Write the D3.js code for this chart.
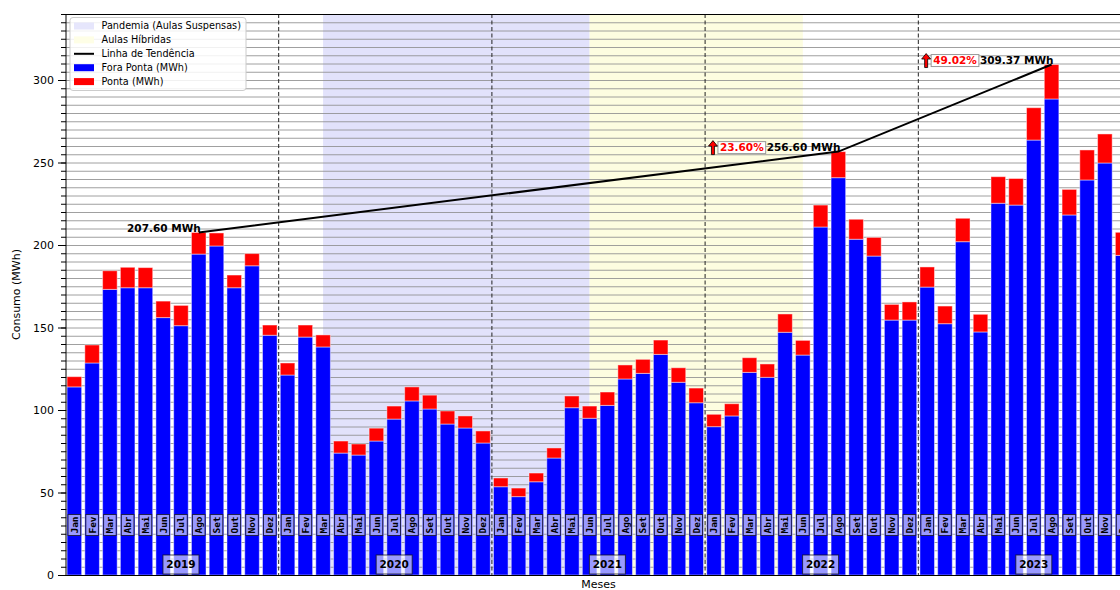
<!DOCTYPE html>
<html>
<head>
<meta charset="utf-8">
<script src="https://cdn.jsdelivr.net/npm/d3@7"></script>
<style>
  body { margin: 0; background: #fff; }
  svg { display: block; font-family: "DejaVu Sans", sans-serif; }
</style>
</head>
<body>
<svg id="chart" width="1120" height="590"></svg>
<script>
// ---- data -----------------------------------------------------------
const monthNames = ["Jan","Fev","Mar","Abr","Mai","Jun","Jul","Ago","Set","Out","Nov","Dez"];
const years = [2019, 2020, 2021, 2022, 2023];

// off-peak consumption (MWh), Jan 2019 .. Dez 2023
const foraPonta = [
  114.0, 128.5, 173.1, 174.1, 174.1, 156.0, 151.1, 194.5, 199.4, 174.1, 187.4, 145.3,
  121.2, 144.2, 138.2,  73.9,  72.7,  81.2,  94.5, 105.5, 100.6,  91.5,  89.1,  80.0,
   53.5,  47.5,  56.5,  70.9, 101.4,  95.0, 102.8, 118.8, 122.2, 133.7, 116.8, 104.4,
   89.9,  96.4, 122.8, 119.8, 147.1, 133.3, 210.9, 240.8, 203.5, 193.3, 154.5, 154.5,
  174.5, 152.3, 202.0, 147.3, 225.3, 224.2, 263.6, 288.5, 218.2, 239.4, 249.7, 193.7
];
// peak consumption (MWh), same months
const ponta = [
    6.2,  10.9,  11.3,  12.4,  12.2,  10.0,  12.3,  13.1,   7.9,   7.7,   7.4,   6.2,
    7.3,   7.3,   7.3,   7.3,   6.7,   7.8,   7.9,   8.5,   8.4,   7.9,   7.3,   7.3,
    5.3,   5.2,   5.3,   6.1,   7.1,   7.4,   8.1,   8.5,   8.5,   8.7,   8.8,   8.9,
    7.5,   7.4,   8.9,   8.1,  11.1,   8.9,  13.3,  15.8,  12.1,  11.3,   9.5,  11.0,
   12.2,  10.7,  14.2,  10.7,  16.1,  16.1,  19.6,  20.87, 15.5,  18.2,  17.6,  14.0
];

const yTicks = [0, 50, 100, 150, 200, 250, 300];
const pandemicSpan = ["Mar 2020", "Jun 2021"];
const hybridSpan = ["Jun 2021", "Jun 2022"];
const trendMonths = ["Ago 2019", "Ago 2022", "Ago 2023"];
const yearLabelMonth = "Jul";

// ---- layout ---------------------------------------------------------
const svg = d3.select("#chart");
const W = 1120, H = 590;
const plotLeft = 66, plotTop = 14, plotBottom = 575, plotRight = 1131;

const keys = years.flatMap(yr => monthNames.map(m => `${m} ${yr}`));
const rows = keys.map((k, i) => ({ key: k, month: k.split(" ")[0], fora: foraPonta[i], ponta: ponta[i], total: foraPonta[i] + ponta[i] }));
const byKey = new Map(rows.map(r => [r.key, r]));

const x = d3.scaleBand().domain(keys).range([plotLeft, plotRight]).paddingInner(0.18).paddingOuter(0.06);
const cx = k => x(k) + x.bandwidth() / 2;
const y = d3.scaleLinear().domain([0, 340]).range([plotBottom, plotTop]);

const clipId = "plotClip";
svg.append("defs").append("clipPath").attr("id", clipId)
  .append("rect").attr("x", plotLeft).attr("y", plotTop).attr("width", plotRight - plotLeft).attr("height", plotBottom - plotTop);

const plot = svg.append("g").attr("clip-path", `url(#${clipId})`);

// shaded periods
plot.append("rect")
  .attr("x", cx(pandemicSpan[0])).attr("y", plotTop)
  .attr("width", cx(pandemicSpan[1]) - cx(pandemicSpan[0])).attr("height", plotBottom - plotTop)
  .attr("fill", "#e2e2fb");
plot.append("rect")
  .attr("x", cx(hybridSpan[0])).attr("y", plotTop)
  .attr("width", cx(hybridSpan[1]) - cx(hybridSpan[0])).attr("height", plotBottom - plotTop)
  .attr("fill", "#fdfde0");

// horizontal grid every 5 MWh
plot.append("g").selectAll("line")
  .data(d3.range(5, 340, 5))
  .join("line")
  .attr("x1", plotLeft).attr("x2", plotRight)
  .attr("y1", d => y(d) + 0.5).attr("y2", d => y(d) + 0.5)
  .attr("stroke", "#8f8f8f").attr("stroke-width", 1).attr("stroke-opacity", 0.85);

// year dividers
plot.append("g").selectAll("line")
  .data(years.slice(1))
  .join("line")
  .attr("x1", yr => (cx(`Dez ${yr - 1}`) + cx(`Jan ${yr}`)) / 2)
  .attr("x2", yr => (cx(`Dez ${yr - 1}`) + cx(`Jan ${yr}`)) / 2)
  .attr("y1", plotTop).attr("y2", plotBottom)
  .attr("stroke", "#222").attr("stroke-width", 1).attr("stroke-dasharray", "4,2.5");

// stacked bars
const bars = plot.append("g");
bars.selectAll("rect.fora")
  .data(rows).join("rect").attr("class", "fora")
  .attr("x", d => x(d.key)).attr("width", x.bandwidth())
  .attr("y", d => y(d.fora)).attr("height", d => y(0) - y(d.fora))
  .attr("fill", "#0000ff").attr("stroke", "#fff").attr("stroke-opacity", 0.45).attr("stroke-width", 1);
bars.selectAll("rect.ponta")
  .data(rows).join("rect").attr("class", "ponta")
  .attr("x", d => x(d.key)).attr("width", x.bandwidth())
  .attr("y", d => y(d.total)).attr("height", d => y(d.fora) - y(d.total))
  .attr("fill", "#ff0000").attr("stroke", "#fff").attr("stroke-opacity", 0.45).attr("stroke-width", 1);

// month labels inside the bars
const mLab = plot.append("g").selectAll("g")
  .data(rows).join("g")
  .attr("transform", d => `translate(${cx(d.key)},525) rotate(-90)`);
mLab.append("rect")
  .attr("x", -10.5).attr("y", -6.3).attr("width", 21).attr("height", 12.6)
  .attr("fill", "#fff").attr("fill-opacity", 0.6)
  .attr("stroke", "#111").attr("stroke-opacity", 0.75).attr("stroke-width", 1);
mLab.append("text")
  .attr("text-anchor", "middle").attr("dy", "0.36em")
  .attr("font-family", "'DejaVu Sans Mono', monospace").attr("font-weight", "bold")
  .attr("font-size", 9.5).attr("fill", "#000")
  .text(d => d.month);

// year labels
const yLab = plot.append("g").selectAll("g")
  .data(years).join("g")
  .attr("transform", yr => `translate(${cx(`${yearLabelMonth} ${yr}`)},564.5)`);
yLab.append("rect")
  .attr("x", -18).attr("y", -9.5).attr("width", 36).attr("height", 19)
  .attr("fill", "#fff").attr("fill-opacity", 0.6)
  .attr("stroke", "#111").attr("stroke-opacity", 0.75).attr("stroke-width", 1);
yLab.append("text")
  .attr("text-anchor", "middle").attr("dy", "0.36em")
  .attr("font-weight", "bold").attr("font-size", 10.5).attr("fill", "#000")
  .text(yr => yr);

// trend line through the August peaks
const trendPts = trendMonths.map(k => ({ key: k, v: byKey.get(k).total }));
plot.append("path")
  .datum(trendPts)
  .attr("d", d3.line().x(d => cx(d.key)).y(d => y(d.v)))
  .attr("fill", "none").attr("stroke", "#000").attr("stroke-width", 2);

// value annotations
const base = trendPts[0].v;
const ann = svg.append("g");
trendPts.forEach((p, i) => {
  const px = cx(p.key) + 2, py = y(p.v) - 4;
  const t = ann.append("text")
    .attr("x", px).attr("y", py).attr("dy", "0.36em")
    .attr("text-anchor", "end").attr("font-weight", "bold").attr("font-size", 10.5)
    .attr("fill", "#000")
    .text(`${p.v.toFixed(2)} MWh`);
  if (i === 0) return;
  const tw = t.node().getComputedTextLength();
  const pct = (p.v / base - 1) * 100;
  const pt = ann.append("text")
    .attr("y", py).attr("dy", "0.36em")
    .attr("text-anchor", "end").attr("font-weight", "bold").attr("font-size", 10.5)
    .attr("fill", "#ff0000")
    .text(`${pct.toFixed(2)}%`);
  const boxRight = px - tw - 1;
  pt.attr("x", boxRight - 2);
  const pw = pt.node().getComputedTextLength();
  ann.insert("rect", "text")
    .attr("x", boxRight - pw - 4).attr("y", py - 6).attr("width", pw + 4).attr("height", 12)
    .attr("fill", "#fff").attr("stroke", "#999").attr("stroke-width", 1);
  const ax = boxRight - pw - 9, ay = py + 1;
  ann.append("path")
    .attr("d", `M${ax},${ay - 8} L${ax + 4.5},${ay - 2.5} L${ax + 1.5},${ay - 2.5} L${ax + 1.5},${ay + 6} L${ax - 1.5},${ay + 6} L${ax - 1.5},${ay - 2.5} L${ax - 4.5},${ay - 2.5} Z`)
    .attr("fill", "#ff0000").attr("stroke", "#000").attr("stroke-width", 0.8);
});

// axes and frame
const axisG = svg.append("g").attr("transform", `translate(${plotLeft},0)`);
axisG.call(d3.axisLeft(y).tickValues(d3.range(0, 341, 5)).tickSize(5).tickFormat(""))
  .call(g => g.select(".domain").remove());
axisG.append("g").call(d3.axisLeft(y).tickValues(yTicks).tickSize(8).tickPadding(4))
  .call(g => g.select(".domain").remove())
  .call(g => g.selectAll("text").attr("font-size", 11).attr("font-family", "'DejaVu Sans', sans-serif").attr("fill", "#000"));
axisG.selectAll(".tick line").attr("stroke", "#000");

svg.append("line").attr("x1", plotLeft).attr("x2", plotLeft).attr("y1", plotTop).attr("y2", plotBottom).attr("stroke", "#000").attr("stroke-width", 1);
svg.append("line").attr("x1", plotLeft).attr("x2", W).attr("y1", plotTop + 0.5).attr("y2", plotTop + 0.5).attr("stroke", "#000").attr("stroke-width", 1);
svg.append("line").attr("x1", plotLeft).attr("x2", W).attr("y1", plotBottom + 0.5).attr("y2", plotBottom + 0.5).attr("stroke", "#000").attr("stroke-width", 1);

svg.append("text")
  .attr("transform", `translate(20,${(plotTop + plotBottom) / 2}) rotate(-90)`)
  .attr("text-anchor", "middle").attr("font-size", 11).text("Consumo (MWh)");
svg.append("text")
  .attr("x", (plotLeft + plotRight) / 2).attr("y", 588)
  .attr("text-anchor", "middle").attr("font-size", 11).text("Meses");

// legend
const legend = svg.append("g");
legend.append("rect")
  .attr("x", 70).attr("y", 17.5).attr("width", 176).attr("height", 73).attr("rx", 3)
  .attr("fill", "#fff").attr("fill-opacity", 0.85).attr("stroke", "#ccc");
const legendItems = [
  { label: "Pandemia (Aulas Suspensas)", type: "patch", color: "#e6e6fc" },
  { label: "Aulas Híbridas", type: "patch", color: "#fefee6" },
  { label: "Linha de Tendência", type: "line", color: "#000" },
  { label: "Fora Ponta (MWh)", type: "patch", color: "#0000ff" },
  { label: "Ponta (MWh)", type: "patch", color: "#ff0000" }
];
legendItems.forEach((it, i) => {
  const ly = 26 + i * 13.9;
  if (it.type === "patch") {
    legend.append("rect").attr("x", 74).attr("y", ly - 3.5).attr("width", 20).attr("height", 7).attr("fill", it.color);
  } else {
    legend.append("line").attr("x1", 74).attr("x2", 94).attr("y1", ly).attr("y2", ly).attr("stroke", it.color).attr("stroke-width", 2);
  }
  legend.append("text").attr("x", 101.5).attr("y", ly).attr("dy", "0.36em")
    .attr("font-size", 9.7).attr("fill", "#000").text(it.label);
});
</script>
</body>
</html>
